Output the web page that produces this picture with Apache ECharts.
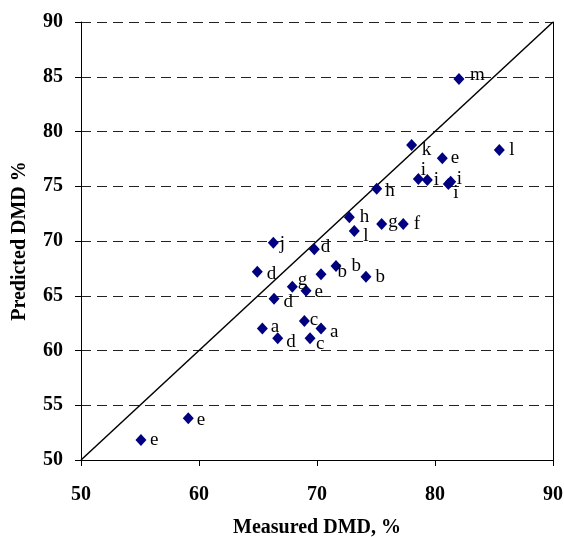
<!DOCTYPE html>
<html><head><meta charset="utf-8">
<script src="https://cdn.jsdelivr.net/npm/echarts@6/dist/echarts.min.js"></script>
<style>html,body{margin:0;padding:0;background:#fff}#c{width:564px;height:537px}</style>
</head><body><div id="c"></div>
<script>
// Data
var measured  = [82.03,85.45,78.02,80.62,78.59,79.35,81.33,81.13,75.06,72.74,75.48,77.31,73.16,66.30,69.77,64.94,70.34,71.61,74.15,67.91,69.07,66.36,65.37,68.93,70.34,66.67,69.41,59.09,55.08];
var predicted = [84.79,78.31,78.77,77.55,75.66,75.57,75.41,75.20,74.78,72.16,71.55,71.55,70.91,69.84,69.24,67.20,66.96,67.72,66.74,65.83,65.46,64.73,62.00,62.69,62.00,61.11,61.11,53.81,51.83];
var pointLabels = ['m','l','k','e','i','i','i','i','h','h','g','f','l','j','d','d','b','b','b','g','e','d','a','c','a','d','c','e','e'];
var lineX = [50,90];
var lineY = [50,90];
var xTicks = [50,60,70,80,90];
var yTicks = [50,55,60,65,70,75,80,85,90];

// Label placement (style)
var labelOffsets = [[2.5,-4],[1.5,0],[1.5,5],[0,0],[-6,-9],[-2,0],[-2.5,-3],[-3.5,8.5],[0,2],[2,0],[-2,-2],[2,0],[0.5,5],[-2,1],[-2,-2],[1,2],[8,-2],[7,0],[1,0],[-3,-7],[0,1],[1,3],[0,-2],[-3,-1],[0.5,3],[0,4],[-2.5,5.5],[0,2],[0.5,0]];

var serif = '"Liberation Serif","Times New Roman",serif';
var pts = measured.map(function(x,i){
  return {value:[x,predicted[i]], label:{offset:labelOffsets[i]}, name:pointLabels[i]};
});
var chart = echarts.init(document.getElementById('c'),null,{renderer:'canvas'});
chart.setOption({
  animation:false,
  backgroundColor:'#fff',
  grid:{left:81,right:11,top:22,bottom:77,containLabel:false,outerBoundsMode:'none'},
  xAxis:{type:'value',min:xTicks[0],max:xTicks[xTicks.length-1],interval:10,
    name:'Measured DMD, %',nameLocation:'middle',nameGap:58,
    nameTextStyle:{fontFamily:serif,fontWeight:'bold',fontSize:20,color:'#000'},
    axisLine:{show:true,lineStyle:{color:'#000',width:1}},
    axisTick:{show:true,inside:false,length:6,lineStyle:{color:'#000'}},
    axisLabel:{margin:25,fontFamily:serif,fontWeight:'bold',fontSize:20,color:'#000'},
    splitLine:{show:false}},
  yAxis:[{type:'value',min:yTicks[0],max:yTicks[yTicks.length-1],interval:5,
    name:'Predicted DMD %',nameLocation:'middle',nameGap:51,nameRotate:90,
    nameTextStyle:{fontFamily:serif,fontWeight:'bold',fontSize:20,color:'#000'},
    axisLine:{show:true,lineStyle:{color:'#000',width:1}},
    axisTick:{show:true,inside:false,length:6,lineStyle:{color:'#000'}},
    axisLabel:{margin:18,fontFamily:serif,fontWeight:'bold',fontSize:20,color:'#000'},
    splitLine:{show:true,lineStyle:{color:'#222',type:[10,6],width:1}}},
    {type:'value',position:'right',min:50,max:90,
    axisLine:{show:true,lineStyle:{color:'#000',width:1}},
    axisTick:{show:false},axisLabel:{show:false},splitLine:{show:false}}],
  series:[
    {type:'line',data:lineX.map(function(x,i){return [x,lineY[i]];}),
     symbol:'none',lineStyle:{color:'#000',width:1.5},silent:true,z:2},
    {type:'scatter',data:pts,symbol:'diamond',symbolSize:[11,12],
     itemStyle:{color:'#000080',opacity:1},z:3,
     label:{show:true,position:'right',distance:3,
       formatter:function(p){return p.name;},
       fontFamily:serif,fontSize:19,color:'#000'}}
  ]
});
</script></body></html>
